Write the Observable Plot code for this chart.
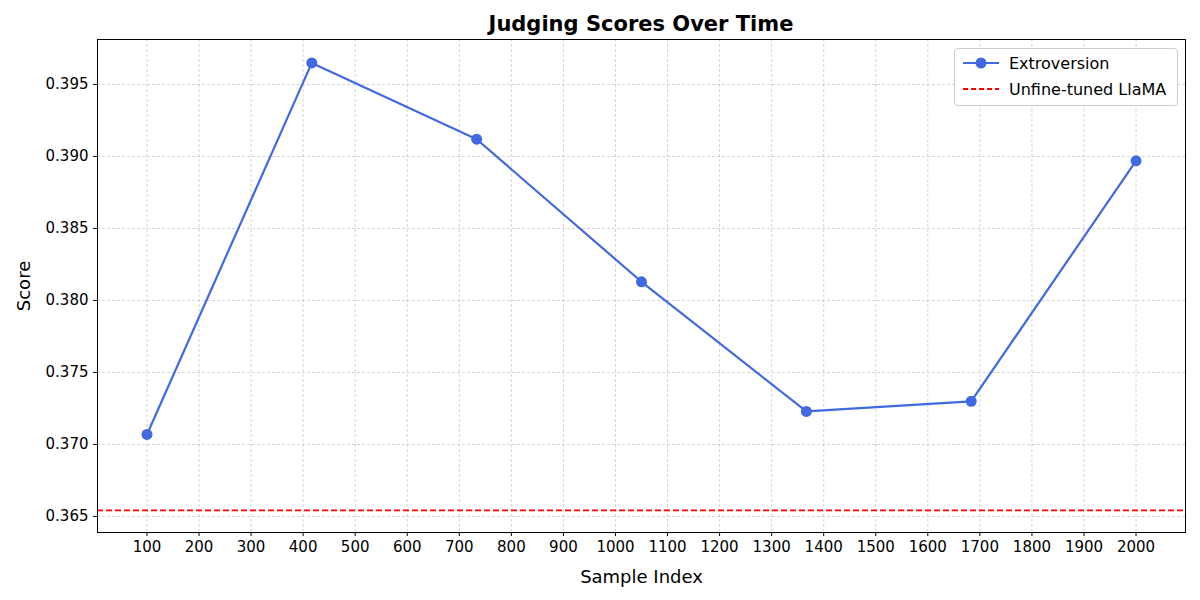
<!DOCTYPE html>
<html><head><meta charset="utf-8">
<script src="https://cdn.jsdelivr.net/npm/d3@7"></script>
<script src="https://cdn.jsdelivr.net/npm/@observablehq/plot@0.6"></script>
<style>
body{margin:0;font-family:"DejaVu Sans",sans-serif;background:#fff;}
#wrap{position:relative;width:1200px;height:600px;}
#title{height:30px;text-align:center;font-weight:bold;font-size:21px;line-height:48px;padding-left:82px;}
#legend{position:absolute;left:954px;top:48px;width:222px;height:56px;border:1px solid #ccc;border-radius:4px;background:#fff;font-size:16px;}
.row{position:absolute;left:6px;display:flex;align-items:center;}
</style></head>
<body><div id="wrap"><div id="title">Judging Scores Over Time</div><div id="chart"></div>
<div id="legend">
<div class="row" style="top:4px"><svg width="40" height="20"><line x1="2" x2="38" y1="10" y2="10" stroke="royalblue" stroke-width="2"/><circle cx="20" cy="10" r="5.5" fill="royalblue"/></svg><span style="margin-left:8px">Extroversion</span></div>
<div class="row" style="top:30px"><svg width="40" height="20"><line x1="2" x2="38" y1="10" y2="10" stroke="red" stroke-width="1.8" stroke-dasharray="5,3"/></svg><span style="margin-left:8px">Unfine-tuned LlaMA</span></div>
</div></div>
<script>
const sampleIndex = [100, 416.67, 733.33, 1050, 1366.67, 1683.33, 2000];
const scores = [0.3707, 0.3965, 0.3912, 0.3813, 0.3723, 0.3730, 0.3897];
const baseline = 0.36542;
const xTicks = d3.range(100, 2001, 100);
const yTicks = [0.365, 0.370, 0.375, 0.380, 0.385, 0.390, 0.395];
const data = sampleIndex.map((x,i)=>({x, y:scores[i]}));
const plot = Plot.plot({
  width:1200, height:570,
  marginLeft:97, marginRight:15, marginTop:9, marginBottom:68,
  style:{fontSize:"15px", fontFamily:"DejaVu Sans, sans-serif", color:"#000"},
  x:{domain:[5,2095]},
  y:{domain:[0.36389,0.398125]},
  marks:[
    Plot.gridX(xTicks,{stroke:"#999", strokeOpacity:0.7, strokeDasharray:"3,2", strokeWidth:0.6}),
    Plot.gridY(yTicks,{stroke:"#999", strokeOpacity:0.7, strokeDasharray:"3,2", strokeWidth:0.6}),
    Plot.ruleY([baseline],{stroke:"red", strokeWidth:1.8, strokeDasharray:"6,3"}),
    Plot.line(data,{x:"x",y:"y",stroke:"royalblue",strokeWidth:2.2}),
    Plot.dot(data,{x:"x",y:"y",fill:"royalblue",r:5.5}),
    Plot.frame({stroke:"#000"}),
    Plot.axisX(xTicks,{tickFormat:d=>String(d), label:"Sample Index", labelArrow:"none", labelAnchor:"center", labelOffset:50, fontSize:15, tickSize:4}),
    Plot.axisY(yTicks,{tickFormat:d3.format(".3f"), label:"Score", labelArrow:"none", labelAnchor:"center", labelOffset:80, fontSize:15, tickSize:4})
  ]
});
plot.querySelectorAll("text").forEach(t=>{
  const s=t.textContent.trim();
  if(s.startsWith("Sample Index")||s.startsWith("Score")){t.textContent=s.startsWith("Score")?"Score":"Sample Index";t.style.fontSize="18px";}
});
document.getElementById("chart").appendChild(plot);
</script></body></html>
